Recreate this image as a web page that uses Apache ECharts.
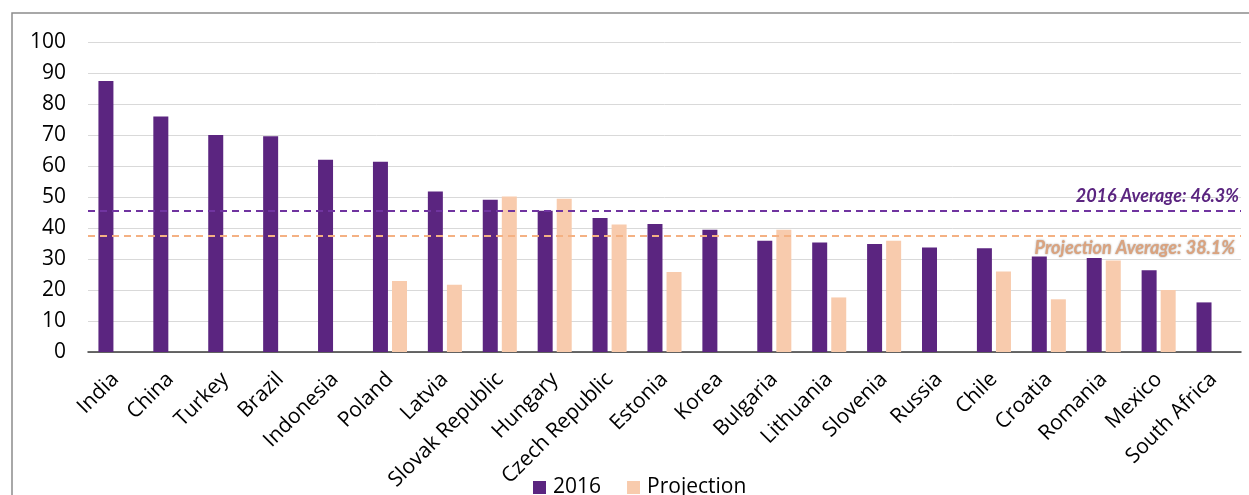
<!DOCTYPE html>
<html>
<head>
<meta charset="utf-8">
<script src="https://cdn.jsdelivr.net/npm/echarts@6/dist/echarts.min.js"></script>
<style>
html,body{margin:0;padding:0;background:#fff;}
#chart{width:1249px;height:495px;}
</style>
</head>
<body>
<div id="chart"></div>
<script>
var categories = ["India","China","Turkey","Brazil","Indonesia","Poland","Latvia","Slovak Republic","Hungary","Czech Republic","Estonia","Korea","Bulgaria","Lithuania","Slovenia","Russia","Chile","Croatia","Romania","Mexico","South Africa"];
var values2016 = [87.4,76.0,70.0,69.6,62.0,61.4,51.8,49.1,45.6,43.2,41.3,39.4,35.9,35.3,34.8,33.7,33.5,30.8,30.3,26.4,16.0];
var valuesProjection = [null,null,null,null,null,22.9,21.7,50.2,49.4,41.1,25.8,null,39.4,17.6,35.9,null,26.0,17.0,29.5,20.0,null];
var avg2016 = 45.6;
var avgProjection = 37.4;
var avg2016Label = "2016 Average: 46.3%";
var avgProjectionLabel = "Projection Average: 38.1%";
var yTicks = {min:0, max:100, interval:10};

var chart = echarts.init(document.getElementById('chart'));
var option = {
  animation:false,
  backgroundColor:'#ffffff',
  textStyle:{fontFamily:'Open Sans'},
  graphic:[{
    type:'rect', silent:true, z:-1,
    shape:{x:12,y:13,width:1300,height:600},
    style:{fill:'none',stroke:'#8c8c8c',lineWidth:1.5}
  }],
  grid:{left:88,right:8,top:42,bottom:143,containLabel:false},
  legend:{
    left:528, top:472,
    itemWidth:13, itemHeight:13, itemGap:26,
    icon:'rect',
    textStyle:{fontFamily:'Open Sans',fontSize:21,color:'#000',padding:[0,0,0,2]},
    data:['2016','Projection']
  },
  xAxis:{
    type:'category',
    data:categories,
    axisLine:{lineStyle:{color:'#3a3a3a',width:1.5}},
    axisTick:{show:false},
    axisLabel:{rotate:45,interval:0,margin:24,fontFamily:'Open Sans',fontSize:21,color:'#000'}
  },
  yAxis:{
    type:'value',
    min:yTicks.min, max:yTicks.max, interval:yTicks.interval,
    axisLine:{show:false},
    axisTick:{show:false},
    splitLine:{lineStyle:{color:'#d9d9d9',width:1}},
    axisLabel:{margin:22,fontFamily:'Open Sans',fontSize:21,color:'#000'}
  },
  series:[
    {
      name:'2016', type:'bar', data:values2016,
      barWidth:15, barGap:'27%',
      itemStyle:{color:'#5b2580'},
      markLine:{
        silent:true, symbol:'none',
        lineStyle:{type:[7,5],color:'#7034a0',width:2},
        label:{
          position:'insideEndTop', formatter:avg2016Label, distance:[2,5],
          fontFamily:'Lato', fontStyle:'italic', fontWeight:'bold', fontSize:18, color:'#5b2580'
        },
        data:[{yAxis:avg2016}]
      }
    },
    {
      name:'Projection', type:'bar', data:valuesProjection,
      barWidth:15,
      itemStyle:{color:'#f8cbad'},
      markLine:{
        silent:true, symbol:'none',
        lineStyle:{type:[7,5],color:'#f4b183',width:2},
        label:{
          position:'insideEndBottom', formatter:avgProjectionLabel, distance:[6,3],
          fontFamily:'Lato', fontStyle:'italic', fontWeight:'bold', fontSize:18, color:'#dba37e',
          textShadowColor:'rgba(90,90,90,0.6)', textShadowBlur:2
        },
        data:[{yAxis:avgProjection}]
      }
    }
  ]
};
chart.setOption(option);
</script>
</body>
</html>
